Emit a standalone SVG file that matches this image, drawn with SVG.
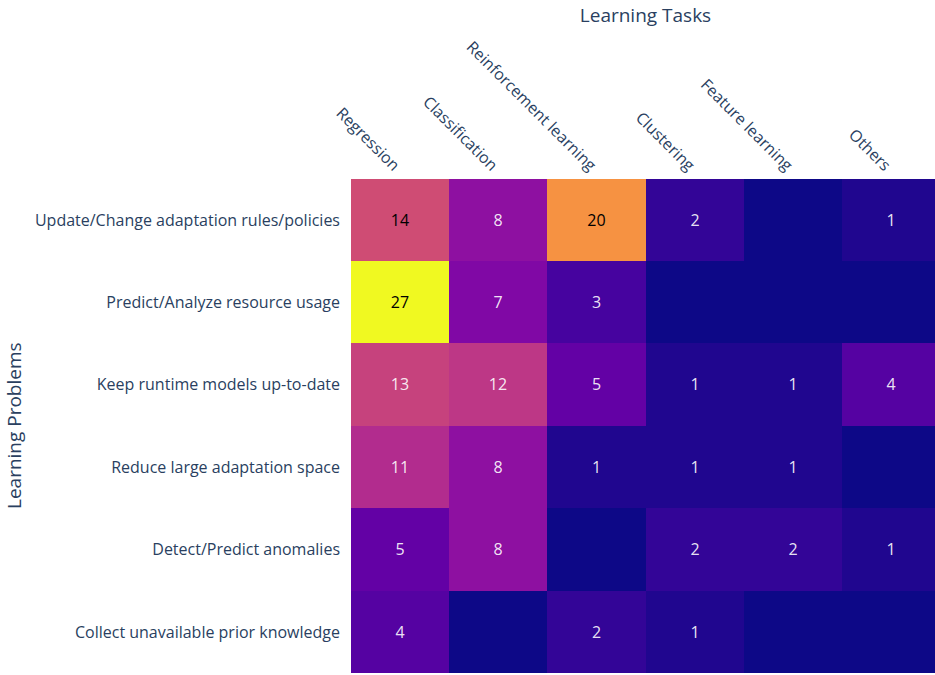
<svg xmlns="http://www.w3.org/2000/svg" width="935" height="675" viewBox="0 0 935 675">
<style>
.tick{font-family:"Open Sans","Liberation Sans",sans-serif;font-size:16px;fill:#2a3f5f}
.title{font-family:"Open Sans","Liberation Sans",sans-serif;font-size:19px;fill:#2a3f5f}
.v{font-family:"Open Sans","Liberation Sans",sans-serif;font-size:16px;text-anchor:middle}
.w{fill:#ffffff;fill-opacity:0.9}
.b{fill:#000000}
#cells rect{shape-rendering:crispEdges}
</style>
<rect width="935" height="675" fill="#ffffff"/>
<g id="cells">
<g id="r1">
<rect x="351" y="179" width="98" height="82" fill="#cf4c74"/>
<rect x="449" y="179" width="98" height="82" fill="#8e10a1"/>
<rect x="547" y="179" width="99" height="82" fill="#f69242"/>
<rect x="646" y="179" width="98" height="82" fill="#330597"/>
<rect x="744" y="179" width="98" height="82" fill="#0d0887"/>
<rect x="842" y="179" width="93" height="82" fill="#20068f"/>
</g>
<g id="r2">
<rect x="351" y="261" width="98" height="82" fill="#f0f921"/>
<rect x="449" y="261" width="98" height="82" fill="#8008a5"/>
<rect x="547" y="261" width="99" height="82" fill="#46039f"/>
<rect x="646" y="261" width="98" height="82" fill="#0d0887"/>
<rect x="744" y="261" width="98" height="82" fill="#0d0887"/>
<rect x="842" y="261" width="93" height="82" fill="#0d0887"/>
</g>
<g id="r3">
<rect x="351" y="343" width="98" height="83" fill="#c6427d"/>
<rect x="449" y="343" width="98" height="83" fill="#bd3786"/>
<rect x="547" y="343" width="99" height="83" fill="#6301a5"/>
<rect x="646" y="343" width="98" height="83" fill="#20068f"/>
<rect x="744" y="343" width="98" height="83" fill="#20068f"/>
<rect x="842" y="343" width="93" height="83" fill="#5502a2"/>
</g>
<g id="r4">
<rect x="351" y="426" width="98" height="82" fill="#b22c8e"/>
<rect x="449" y="426" width="98" height="82" fill="#8e10a1"/>
<rect x="547" y="426" width="99" height="82" fill="#20068f"/>
<rect x="646" y="426" width="98" height="82" fill="#20068f"/>
<rect x="744" y="426" width="98" height="82" fill="#20068f"/>
<rect x="842" y="426" width="93" height="82" fill="#0d0887"/>
</g>
<g id="r5">
<rect x="351" y="508" width="98" height="83" fill="#6301a5"/>
<rect x="449" y="508" width="98" height="83" fill="#8e10a1"/>
<rect x="547" y="508" width="99" height="83" fill="#0d0887"/>
<rect x="646" y="508" width="98" height="83" fill="#330597"/>
<rect x="744" y="508" width="98" height="83" fill="#330597"/>
<rect x="842" y="508" width="93" height="83" fill="#20068f"/>
</g>
<g id="r6">
<rect x="351" y="591" width="98" height="82" fill="#5502a2"/>
<rect x="449" y="591" width="98" height="82" fill="#0d0887"/>
<rect x="547" y="591" width="99" height="82" fill="#330597"/>
<rect x="646" y="591" width="98" height="82" fill="#20068f"/>
<rect x="744" y="591" width="98" height="82" fill="#0d0887"/>
<rect x="842" y="591" width="93" height="82" fill="#0d0887"/>
</g>
</g>
<g id="values">
<text class="v b" x="400" y="225.5">14</text>
<text class="v w" x="498" y="225.5">8</text>
<text class="v b" x="596.5" y="225.5">20</text>
<text class="v w" x="695" y="225.5">2</text>
<text class="v w" x="891" y="225.5">1</text>
<text class="v b" x="400" y="307.9">27</text>
<text class="v w" x="498" y="307.9">7</text>
<text class="v w" x="596.5" y="307.9">3</text>
<text class="v w" x="400" y="390.3">13</text>
<text class="v w" x="498" y="390.3">12</text>
<text class="v w" x="596.5" y="390.3">5</text>
<text class="v w" x="695" y="390.3">1</text>
<text class="v w" x="793" y="390.3">1</text>
<text class="v w" x="891" y="390.3">4</text>
<text class="v w" x="400" y="472.7">11</text>
<text class="v w" x="498" y="472.7">8</text>
<text class="v w" x="596.5" y="472.7">1</text>
<text class="v w" x="695" y="472.7">1</text>
<text class="v w" x="793" y="472.7">1</text>
<text class="v w" x="400" y="555.1">5</text>
<text class="v w" x="498" y="555.1">8</text>
<text class="v w" x="695" y="555.1">2</text>
<text class="v w" x="793" y="555.1">2</text>
<text class="v w" x="891" y="555.1">1</text>
<text class="v w" x="400" y="637.5">4</text>
<text class="v w" x="596.5" y="637.5">2</text>
<text class="v w" x="695" y="637.5">1</text>
</g>
<g id="yticks" text-anchor="end">
<text class="tick" x="340" y="225.5">Update/Change adaptation rules/policies</text>
<text class="tick" x="340" y="307.9">Predict/Analyze resource usage</text>
<text class="tick" x="340" y="390.3">Keep runtime models up-to-date</text>
<text class="tick" x="340" y="472.7">Reduce large adaptation space</text>
<text class="tick" x="340" y="555.1">Detect/Predict anomalies</text>
<text class="tick" x="340" y="637.5">Collect unavailable prior knowledge</text>
</g>
<g id="xticks" text-anchor="end">
<text class="tick" transform="translate(393 172) rotate(45)">Regression</text>
<text class="tick" transform="translate(491 172) rotate(45)">Classification</text>
<text class="tick" transform="translate(589.5 172) rotate(45)">Reinforcement learning</text>
<text class="tick" transform="translate(688 172) rotate(45)">Clustering</text>
<text class="tick" transform="translate(786 172) rotate(45)">Feature learning</text>
<text class="tick" transform="translate(884 172) rotate(45)">Others</text>
</g>
<g id="titles">
<text class="title" x="645.5" y="22" text-anchor="middle">Learning Tasks</text>
<text class="title" transform="translate(21 425.7) rotate(-90)" text-anchor="middle">Learning Problems</text>
</g>
</svg>
